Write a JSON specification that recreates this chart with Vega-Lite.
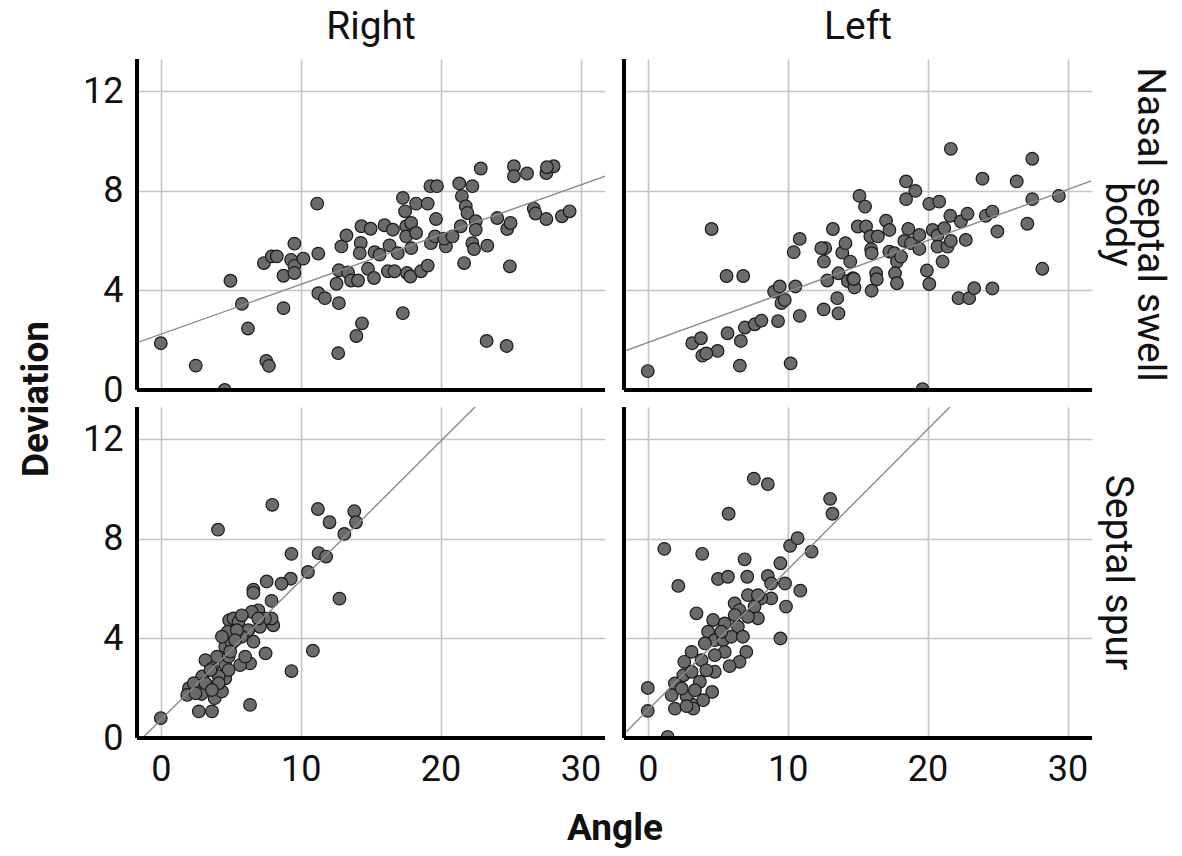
{
"$schema": "https://vega.github.io/schema/vega-lite/v6.json",
"background": "white",
"padding": {"left": 17, "top": 8, "right": 12, "bottom": 2},
"data": {"values": [
{"Side":"Right","Site":"Nasal septal swell body","kind":"fit","Angle":-1.7,"Deviation":1.9},
{"Side":"Right","Site":"Nasal septal swell body","kind":"fit","Angle":31.8,"Deviation":8.6},
{"Side":"Left","Site":"Nasal septal swell body","kind":"fit","Angle":-1.76,"Deviation":1.54},
{"Side":"Left","Site":"Nasal septal swell body","kind":"fit","Angle":31.7,"Deviation":8.4},
{"Side":"Right","Site":"Septal spur","kind":"fit","Angle":-1.3,"Deviation":0},
{"Side":"Right","Site":"Septal spur","kind":"fit","Angle":23,"Deviation":13.6},
{"Side":"Left","Site":"Septal spur","kind":"fit","Angle":-1.76,"Deviation":0.13},
{"Side":"Left","Site":"Septal spur","kind":"fit","Angle":22,"Deviation":13.53},
{"Side":"Right","Site":"Nasal septal swell body","kind":"obs","Angle":0,"Deviation":1.88},
{"Side":"Right","Site":"Nasal septal swell body","kind":"obs","Angle":2.5,"Deviation":0.98},
{"Side":"Right","Site":"Nasal septal swell body","kind":"obs","Angle":4.57,"Deviation":0},
{"Side":"Right","Site":"Nasal septal swell body","kind":"obs","Angle":4.98,"Deviation":4.39},
{"Side":"Right","Site":"Nasal septal swell body","kind":"obs","Angle":5.8,"Deviation":3.46},
{"Side":"Right","Site":"Nasal septal swell body","kind":"obs","Angle":6.23,"Deviation":2.47},
{"Side":"Right","Site":"Nasal septal swell body","kind":"obs","Angle":7.54,"Deviation":1.17},
{"Side":"Right","Site":"Nasal septal swell body","kind":"obs","Angle":7.73,"Deviation":0.97},
{"Side":"Right","Site":"Nasal septal swell body","kind":"obs","Angle":7.37,"Deviation":5.1},
{"Side":"Right","Site":"Nasal septal swell body","kind":"obs","Angle":7.94,"Deviation":5.37},
{"Side":"Right","Site":"Nasal septal swell body","kind":"obs","Angle":8.29,"Deviation":5.37},
{"Side":"Right","Site":"Nasal septal swell body","kind":"obs","Angle":8.77,"Deviation":4.59},
{"Side":"Right","Site":"Nasal septal swell body","kind":"obs","Angle":8.77,"Deviation":3.29},
{"Side":"Right","Site":"Nasal septal swell body","kind":"obs","Angle":9.31,"Deviation":5.23},
{"Side":"Right","Site":"Nasal septal swell body","kind":"obs","Angle":9.55,"Deviation":5.88},
{"Side":"Right","Site":"Nasal septal swell body","kind":"obs","Angle":9.55,"Deviation":4.99},
{"Side":"Right","Site":"Nasal septal swell body","kind":"obs","Angle":9.55,"Deviation":4.7},
{"Side":"Right","Site":"Nasal septal swell body","kind":"obs","Angle":10.19,"Deviation":5.28},
{"Side":"Right","Site":"Nasal septal swell body","kind":"obs","Angle":11.18,"Deviation":7.49},
{"Side":"Right","Site":"Nasal septal swell body","kind":"obs","Angle":11.26,"Deviation":5.48},
{"Side":"Right","Site":"Nasal septal swell body","kind":"obs","Angle":11.26,"Deviation":3.89},
{"Side":"Right","Site":"Nasal septal swell body","kind":"obs","Angle":11.73,"Deviation":3.69},
{"Side":"Right","Site":"Nasal septal swell body","kind":"obs","Angle":12.73,"Deviation":3.49},
{"Side":"Right","Site":"Nasal septal swell body","kind":"obs","Angle":12.68,"Deviation":1.48},
{"Side":"Right","Site":"Nasal septal swell body","kind":"obs","Angle":12.73,"Deviation":4.81},
{"Side":"Right","Site":"Nasal septal swell body","kind":"obs","Angle":12.56,"Deviation":4.27},
{"Side":"Right","Site":"Nasal septal swell body","kind":"obs","Angle":12.91,"Deviation":5.77},
{"Side":"Right","Site":"Nasal septal swell body","kind":"obs","Angle":13.27,"Deviation":6.21},
{"Side":"Right","Site":"Nasal septal swell body","kind":"obs","Angle":13.39,"Deviation":4.72},
{"Side":"Right","Site":"Nasal septal swell body","kind":"obs","Angle":13.6,"Deviation":4.4},
{"Side":"Right","Site":"Nasal septal swell body","kind":"obs","Angle":14.1,"Deviation":4.4},
{"Side":"Right","Site":"Nasal septal swell body","kind":"obs","Angle":13.98,"Deviation":2.17},
{"Side":"Right","Site":"Nasal septal swell body","kind":"obs","Angle":14.38,"Deviation":2.68},
{"Side":"Right","Site":"Nasal septal swell body","kind":"obs","Angle":14.34,"Deviation":6.58},
{"Side":"Right","Site":"Nasal septal swell body","kind":"obs","Angle":14.29,"Deviation":5.91},
{"Side":"Right","Site":"Nasal septal swell body","kind":"obs","Angle":14.22,"Deviation":5.5},
{"Side":"Right","Site":"Nasal septal swell body","kind":"obs","Angle":14.81,"Deviation":4.87},
{"Side":"Right","Site":"Nasal septal swell body","kind":"obs","Angle":15.0,"Deviation":6.48},
{"Side":"Right","Site":"Nasal septal swell body","kind":"obs","Angle":15.24,"Deviation":4.5},
{"Side":"Right","Site":"Nasal septal swell body","kind":"obs","Angle":15.28,"Deviation":5.54},
{"Side":"Right","Site":"Nasal septal swell body","kind":"obs","Angle":15.64,"Deviation":5.44},
{"Side":"Right","Site":"Nasal septal swell body","kind":"obs","Angle":15.99,"Deviation":6.62},
{"Side":"Right","Site":"Nasal septal swell body","kind":"obs","Angle":16.35,"Deviation":5.81},
{"Side":"Right","Site":"Nasal septal swell body","kind":"obs","Angle":16.23,"Deviation":4.77},
{"Side":"Right","Site":"Nasal septal swell body","kind":"obs","Angle":16.71,"Deviation":4.77},
{"Side":"Right","Site":"Nasal septal swell body","kind":"obs","Angle":16.94,"Deviation":5.5},
{"Side":"Right","Site":"Nasal septal swell body","kind":"obs","Angle":17.3,"Deviation":7.72},
{"Side":"Right","Site":"Nasal septal swell body","kind":"obs","Angle":17.3,"Deviation":3.09},
{"Side":"Right","Site":"Nasal septal swell body","kind":"obs","Angle":17.46,"Deviation":7.18},
{"Side":"Right","Site":"Nasal septal swell body","kind":"obs","Angle":17.54,"Deviation":6.58},
{"Side":"Right","Site":"Nasal septal swell body","kind":"obs","Angle":17.54,"Deviation":6.17},
{"Side":"Right","Site":"Nasal septal swell body","kind":"obs","Angle":17.9,"Deviation":6.71},
{"Side":"Right","Site":"Nasal septal swell body","kind":"obs","Angle":17.9,"Deviation":5.7},
{"Side":"Right","Site":"Nasal septal swell body","kind":"obs","Angle":17.6,"Deviation":4.7},
{"Side":"Right","Site":"Nasal septal swell body","kind":"obs","Angle":17.84,"Deviation":4.56},
{"Side":"Right","Site":"Nasal septal swell body","kind":"obs","Angle":18.25,"Deviation":7.49},
{"Side":"Right","Site":"Nasal septal swell body","kind":"obs","Angle":18.25,"Deviation":6.31},
{"Side":"Right","Site":"Nasal septal swell body","kind":"obs","Angle":18.6,"Deviation":4.77},
{"Side":"Right","Site":"Nasal septal swell body","kind":"obs","Angle":19.08,"Deviation":7.49},
{"Side":"Right","Site":"Nasal septal swell body","kind":"obs","Angle":19.08,"Deviation":5.0},
{"Side":"Right","Site":"Nasal septal swell body","kind":"obs","Angle":19.27,"Deviation":8.19},
{"Side":"Right","Site":"Nasal septal swell body","kind":"obs","Angle":19.74,"Deviation":8.19},
{"Side":"Right","Site":"Nasal septal swell body","kind":"obs","Angle":19.67,"Deviation":6.87},
{"Side":"Right","Site":"Nasal septal swell body","kind":"obs","Angle":19.31,"Deviation":5.9},
{"Side":"Right","Site":"Nasal septal swell body","kind":"obs","Angle":19.6,"Deviation":6.17},
{"Side":"Right","Site":"Nasal septal swell body","kind":"obs","Angle":20.38,"Deviation":5.77},
{"Side":"Right","Site":"Nasal septal swell body","kind":"obs","Angle":20.26,"Deviation":6.08},
{"Side":"Right","Site":"Nasal septal swell body","kind":"obs","Angle":20.85,"Deviation":6.17},
{"Side":"Right","Site":"Nasal septal swell body","kind":"obs","Angle":21.33,"Deviation":8.3},
{"Side":"Right","Site":"Nasal septal swell body","kind":"obs","Angle":21.52,"Deviation":7.79},
{"Side":"Right","Site":"Nasal septal swell body","kind":"obs","Angle":22.27,"Deviation":8.19},
{"Side":"Right","Site":"Nasal septal swell body","kind":"obs","Angle":21.8,"Deviation":7.38},
{"Side":"Right","Site":"Nasal septal swell body","kind":"obs","Angle":21.92,"Deviation":7.11},
{"Side":"Right","Site":"Nasal septal swell body","kind":"obs","Angle":21.68,"Deviation":5.1},
{"Side":"Right","Site":"Nasal septal swell body","kind":"obs","Angle":21.44,"Deviation":6.58},
{"Side":"Right","Site":"Nasal septal swell body","kind":"obs","Angle":22.27,"Deviation":5.9},
{"Side":"Right","Site":"Nasal septal swell body","kind":"obs","Angle":22.39,"Deviation":5.66},
{"Side":"Right","Site":"Nasal septal swell body","kind":"obs","Angle":22.51,"Deviation":6.78},
{"Side":"Right","Site":"Nasal septal swell body","kind":"obs","Angle":22.51,"Deviation":6.44},
{"Side":"Right","Site":"Nasal septal swell body","kind":"obs","Angle":22.87,"Deviation":8.9},
{"Side":"Right","Site":"Nasal septal swell body","kind":"obs","Angle":23.34,"Deviation":5.8},
{"Side":"Right","Site":"Nasal septal swell body","kind":"obs","Angle":23.29,"Deviation":1.97},
{"Side":"Right","Site":"Nasal septal swell body","kind":"obs","Angle":24.05,"Deviation":6.91},
{"Side":"Right","Site":"Nasal septal swell body","kind":"obs","Angle":24.76,"Deviation":6.47},
{"Side":"Right","Site":"Nasal septal swell body","kind":"obs","Angle":25.0,"Deviation":6.71},
{"Side":"Right","Site":"Nasal septal swell body","kind":"obs","Angle":24.95,"Deviation":4.97},
{"Side":"Right","Site":"Nasal septal swell body","kind":"obs","Angle":24.72,"Deviation":1.77},
{"Side":"Right","Site":"Nasal septal swell body","kind":"obs","Angle":25.24,"Deviation":8.99},
{"Side":"Right","Site":"Nasal septal swell body","kind":"obs","Angle":25.24,"Deviation":8.59},
{"Side":"Right","Site":"Nasal septal swell body","kind":"obs","Angle":26.18,"Deviation":8.7},
{"Side":"Right","Site":"Nasal septal swell body","kind":"obs","Angle":26.66,"Deviation":7.29},
{"Side":"Right","Site":"Nasal septal swell body","kind":"obs","Angle":26.78,"Deviation":7.09},
{"Side":"Right","Site":"Nasal septal swell body","kind":"obs","Angle":27.56,"Deviation":6.87},
{"Side":"Right","Site":"Nasal septal swell body","kind":"obs","Angle":27.56,"Deviation":8.72},
{"Side":"Right","Site":"Nasal septal swell body","kind":"obs","Angle":28.08,"Deviation":8.99},
{"Side":"Right","Site":"Nasal septal swell body","kind":"obs","Angle":28.67,"Deviation":6.98},
{"Side":"Right","Site":"Nasal septal swell body","kind":"obs","Angle":29.22,"Deviation":7.18},
{"Side":"Right","Site":"Nasal septal swell body","kind":"obs","Angle":16.59,"Deviation":6.44},
{"Side":"Right","Site":"Nasal septal swell body","kind":"obs","Angle":27.6,"Deviation":8.95},
{"Side":"Left","Site":"Nasal septal swell body","kind":"obs","Angle":0,"Deviation":0.76},
{"Side":"Left","Site":"Nasal septal swell body","kind":"obs","Angle":3.18,"Deviation":1.88},
{"Side":"Left","Site":"Nasal septal swell body","kind":"obs","Angle":3.8,"Deviation":2.08},
{"Side":"Left","Site":"Nasal septal swell body","kind":"obs","Angle":3.9,"Deviation":1.38},
{"Side":"Left","Site":"Nasal septal swell body","kind":"obs","Angle":4.56,"Deviation":6.47},
{"Side":"Left","Site":"Nasal septal swell body","kind":"obs","Angle":4.99,"Deviation":1.57},
{"Side":"Left","Site":"Nasal septal swell body","kind":"obs","Angle":5.7,"Deviation":2.28},
{"Side":"Left","Site":"Nasal septal swell body","kind":"obs","Angle":5.63,"Deviation":4.58},
{"Side":"Left","Site":"Nasal septal swell body","kind":"obs","Angle":6.82,"Deviation":4.58},
{"Side":"Left","Site":"Nasal septal swell body","kind":"obs","Angle":6.65,"Deviation":1.97},
{"Side":"Left","Site":"Nasal septal swell body","kind":"obs","Angle":6.58,"Deviation":0.98},
{"Side":"Left","Site":"Nasal septal swell body","kind":"obs","Angle":6.94,"Deviation":2.51},
{"Side":"Left","Site":"Nasal septal swell body","kind":"obs","Angle":7.65,"Deviation":2.64},
{"Side":"Left","Site":"Nasal septal swell body","kind":"obs","Angle":8.12,"Deviation":2.79},
{"Side":"Left","Site":"Nasal septal swell body","kind":"obs","Angle":9.03,"Deviation":3.95},
{"Side":"Left","Site":"Nasal septal swell body","kind":"obs","Angle":9.43,"Deviation":4.16},
{"Side":"Left","Site":"Nasal septal swell body","kind":"obs","Angle":9.31,"Deviation":2.77},
{"Side":"Left","Site":"Nasal septal swell body","kind":"obs","Angle":9.55,"Deviation":3.49},
{"Side":"Left","Site":"Nasal septal swell body","kind":"obs","Angle":9.79,"Deviation":3.62},
{"Side":"Left","Site":"Nasal septal swell body","kind":"obs","Angle":10.21,"Deviation":1.07},
{"Side":"Left","Site":"Nasal septal swell body","kind":"obs","Angle":10.43,"Deviation":5.54},
{"Side":"Left","Site":"Nasal septal swell body","kind":"obs","Angle":10.86,"Deviation":6.07},
{"Side":"Left","Site":"Nasal septal swell body","kind":"obs","Angle":10.55,"Deviation":4.16},
{"Side":"Left","Site":"Nasal septal swell body","kind":"obs","Angle":10.86,"Deviation":2.98},
{"Side":"Left","Site":"Nasal septal swell body","kind":"obs","Angle":12.57,"Deviation":3.24},
{"Side":"Left","Site":"Nasal septal swell body","kind":"obs","Angle":12.59,"Deviation":5.16},
{"Side":"Left","Site":"Nasal septal swell body","kind":"obs","Angle":12.68,"Deviation":5.7},
{"Side":"Left","Site":"Nasal septal swell body","kind":"obs","Angle":12.4,"Deviation":5.7},
{"Side":"Left","Site":"Nasal septal swell body","kind":"obs","Angle":12.83,"Deviation":4.4},
{"Side":"Left","Site":"Nasal septal swell body","kind":"obs","Angle":13.23,"Deviation":6.47},
{"Side":"Left","Site":"Nasal septal swell body","kind":"obs","Angle":13.54,"Deviation":3.69},
{"Side":"Left","Site":"Nasal septal swell body","kind":"obs","Angle":13.63,"Deviation":3.08},
{"Side":"Left","Site":"Nasal septal swell body","kind":"obs","Angle":13.63,"Deviation":4.69},
{"Side":"Left","Site":"Nasal septal swell body","kind":"obs","Angle":13.9,"Deviation":5.52},
{"Side":"Left","Site":"Nasal septal swell body","kind":"obs","Angle":14.13,"Deviation":5.9},
{"Side":"Left","Site":"Nasal septal swell body","kind":"obs","Angle":14.3,"Deviation":4.38},
{"Side":"Left","Site":"Nasal septal swell body","kind":"obs","Angle":14.47,"Deviation":5.16},
{"Side":"Left","Site":"Nasal septal swell body","kind":"obs","Angle":14.66,"Deviation":4.49},
{"Side":"Left","Site":"Nasal septal swell body","kind":"obs","Angle":14.77,"Deviation":4.12},
{"Side":"Left","Site":"Nasal septal swell body","kind":"obs","Angle":14.73,"Deviation":4.46},
{"Side":"Left","Site":"Nasal septal swell body","kind":"obs","Angle":15.01,"Deviation":6.57},
{"Side":"Left","Site":"Nasal septal swell body","kind":"obs","Angle":15.13,"Deviation":7.8},
{"Side":"Left","Site":"Nasal septal swell body","kind":"obs","Angle":15.53,"Deviation":7.37},
{"Side":"Left","Site":"Nasal septal swell body","kind":"obs","Angle":15.6,"Deviation":6.57},
{"Side":"Left","Site":"Nasal septal swell body","kind":"obs","Angle":15.91,"Deviation":6.17},
{"Side":"Left","Site":"Nasal septal swell body","kind":"obs","Angle":15.96,"Deviation":5.66},
{"Side":"Left","Site":"Nasal septal swell body","kind":"obs","Angle":16.0,"Deviation":5.5},
{"Side":"Left","Site":"Nasal septal swell body","kind":"obs","Angle":16.0,"Deviation":3.99},
{"Side":"Left","Site":"Nasal septal swell body","kind":"obs","Angle":16.44,"Deviation":6.17},
{"Side":"Left","Site":"Nasal septal swell body","kind":"obs","Angle":16.32,"Deviation":4.69},
{"Side":"Left","Site":"Nasal septal swell body","kind":"obs","Angle":16.37,"Deviation":4.45},
{"Side":"Left","Site":"Nasal septal swell body","kind":"obs","Angle":17.03,"Deviation":6.8},
{"Side":"Left","Site":"Nasal septal swell body","kind":"obs","Angle":17.27,"Deviation":6.43},
{"Side":"Left","Site":"Nasal septal swell body","kind":"obs","Angle":17.27,"Deviation":5.56},
{"Side":"Left","Site":"Nasal septal swell body","kind":"obs","Angle":17.62,"Deviation":5.5},
{"Side":"Left","Site":"Nasal septal swell body","kind":"obs","Angle":17.81,"Deviation":5.16},
{"Side":"Left","Site":"Nasal septal swell body","kind":"obs","Angle":17.67,"Deviation":4.69},
{"Side":"Left","Site":"Nasal septal swell body","kind":"obs","Angle":17.81,"Deviation":4.29},
{"Side":"Left","Site":"Nasal septal swell body","kind":"obs","Angle":18.1,"Deviation":5.36},
{"Side":"Left","Site":"Nasal septal swell body","kind":"obs","Angle":18.34,"Deviation":5.99},
{"Side":"Left","Site":"Nasal septal swell body","kind":"obs","Angle":18.46,"Deviation":8.38},
{"Side":"Left","Site":"Nasal septal swell body","kind":"obs","Angle":18.46,"Deviation":7.67},
{"Side":"Left","Site":"Nasal septal swell body","kind":"obs","Angle":19.12,"Deviation":8.0},
{"Side":"Left","Site":"Nasal septal swell body","kind":"obs","Angle":18.62,"Deviation":6.47},
{"Side":"Left","Site":"Nasal septal swell body","kind":"obs","Angle":18.81,"Deviation":5.9},
{"Side":"Left","Site":"Nasal septal swell body","kind":"obs","Angle":19.41,"Deviation":6.23},
{"Side":"Left","Site":"Nasal septal swell body","kind":"obs","Angle":19.41,"Deviation":5.67},
{"Side":"Left","Site":"Nasal septal swell body","kind":"obs","Angle":19.64,"Deviation":0.03},
{"Side":"Left","Site":"Nasal septal swell body","kind":"obs","Angle":19.95,"Deviation":4.8},
{"Side":"Left","Site":"Nasal septal swell body","kind":"obs","Angle":20.12,"Deviation":4.26},
{"Side":"Left","Site":"Nasal septal swell body","kind":"obs","Angle":20.12,"Deviation":7.48},
{"Side":"Left","Site":"Nasal septal swell body","kind":"obs","Angle":20.83,"Deviation":7.57},
{"Side":"Left","Site":"Nasal septal swell body","kind":"obs","Angle":20.36,"Deviation":6.43},
{"Side":"Left","Site":"Nasal septal swell body","kind":"obs","Angle":20.71,"Deviation":6.21},
{"Side":"Left","Site":"Nasal septal swell body","kind":"obs","Angle":20.71,"Deviation":5.76},
{"Side":"Left","Site":"Nasal septal swell body","kind":"obs","Angle":21.07,"Deviation":5.16},
{"Side":"Left","Site":"Nasal septal swell body","kind":"obs","Angle":21.19,"Deviation":6.5},
{"Side":"Left","Site":"Nasal septal swell body","kind":"obs","Angle":21.43,"Deviation":5.76},
{"Side":"Left","Site":"Nasal septal swell body","kind":"obs","Angle":21.66,"Deviation":5.99},
{"Side":"Left","Site":"Nasal septal swell body","kind":"obs","Angle":21.66,"Deviation":9.69},
{"Side":"Left","Site":"Nasal septal swell body","kind":"obs","Angle":21.62,"Deviation":7.0},
{"Side":"Left","Site":"Nasal septal swell body","kind":"obs","Angle":22.38,"Deviation":6.77},
{"Side":"Left","Site":"Nasal septal swell body","kind":"obs","Angle":22.85,"Deviation":7.08},
{"Side":"Left","Site":"Nasal septal swell body","kind":"obs","Angle":22.73,"Deviation":6.03},
{"Side":"Left","Site":"Nasal septal swell body","kind":"obs","Angle":22.21,"Deviation":3.69},
{"Side":"Left","Site":"Nasal septal swell body","kind":"obs","Angle":22.97,"Deviation":3.69},
{"Side":"Left","Site":"Nasal septal swell body","kind":"obs","Angle":23.33,"Deviation":4.09},
{"Side":"Left","Site":"Nasal septal swell body","kind":"obs","Angle":23.92,"Deviation":8.49},
{"Side":"Left","Site":"Nasal septal swell body","kind":"obs","Angle":24.16,"Deviation":7.0},
{"Side":"Left","Site":"Nasal septal swell body","kind":"obs","Angle":24.63,"Deviation":7.17},
{"Side":"Left","Site":"Nasal septal swell body","kind":"obs","Angle":24.99,"Deviation":6.37},
{"Side":"Left","Site":"Nasal septal swell body","kind":"obs","Angle":24.63,"Deviation":4.08},
{"Side":"Left","Site":"Nasal septal swell body","kind":"obs","Angle":26.37,"Deviation":8.38},
{"Side":"Left","Site":"Nasal septal swell body","kind":"obs","Angle":27.13,"Deviation":6.68},
{"Side":"Left","Site":"Nasal septal swell body","kind":"obs","Angle":27.48,"Deviation":7.67},
{"Side":"Left","Site":"Nasal septal swell body","kind":"obs","Angle":27.48,"Deviation":9.29},
{"Side":"Left","Site":"Nasal septal swell body","kind":"obs","Angle":28.2,"Deviation":4.87},
{"Side":"Left","Site":"Nasal septal swell body","kind":"obs","Angle":29.38,"Deviation":7.8},
{"Side":"Left","Site":"Nasal septal swell body","kind":"obs","Angle":4.18,"Deviation":1.47},
{"Side":"Right","Site":"Septal spur","kind":"obs","Angle":0,"Deviation":0.8},
{"Side":"Right","Site":"Septal spur","kind":"obs","Angle":4.09,"Deviation":8.37},
{"Side":"Right","Site":"Septal spur","kind":"obs","Angle":7.97,"Deviation":9.37},
{"Side":"Right","Site":"Septal spur","kind":"obs","Angle":11.23,"Deviation":9.2},
{"Side":"Right","Site":"Septal spur","kind":"obs","Angle":12.06,"Deviation":8.67},
{"Side":"Right","Site":"Septal spur","kind":"obs","Angle":13.83,"Deviation":9.11},
{"Side":"Right","Site":"Septal spur","kind":"obs","Angle":13.95,"Deviation":8.67},
{"Side":"Right","Site":"Septal spur","kind":"obs","Angle":13.12,"Deviation":8.2},
{"Side":"Right","Site":"Septal spur","kind":"obs","Angle":9.34,"Deviation":7.4},
{"Side":"Right","Site":"Septal spur","kind":"obs","Angle":11.28,"Deviation":7.43},
{"Side":"Right","Site":"Septal spur","kind":"obs","Angle":11.82,"Deviation":7.29},
{"Side":"Right","Site":"Septal spur","kind":"obs","Angle":10.52,"Deviation":6.67},
{"Side":"Right","Site":"Septal spur","kind":"obs","Angle":9.29,"Deviation":6.4},
{"Side":"Right","Site":"Septal spur","kind":"obs","Angle":8.63,"Deviation":6.2},
{"Side":"Right","Site":"Septal spur","kind":"obs","Angle":7.57,"Deviation":6.29},
{"Side":"Right","Site":"Septal spur","kind":"obs","Angle":6.62,"Deviation":5.96},
{"Side":"Right","Site":"Septal spur","kind":"obs","Angle":6.62,"Deviation":5.83},
{"Side":"Right","Site":"Septal spur","kind":"obs","Angle":7.92,"Deviation":5.51},
{"Side":"Right","Site":"Septal spur","kind":"obs","Angle":12.77,"Deviation":5.6},
{"Side":"Right","Site":"Septal spur","kind":"obs","Angle":6.97,"Deviation":5.13},
{"Side":"Right","Site":"Septal spur","kind":"obs","Angle":8.04,"Deviation":4.53},
{"Side":"Right","Site":"Septal spur","kind":"obs","Angle":7.92,"Deviation":4.8},
{"Side":"Right","Site":"Septal spur","kind":"obs","Angle":7.45,"Deviation":4.8},
{"Side":"Right","Site":"Septal spur","kind":"obs","Angle":6.5,"Deviation":5.07},
{"Side":"Right","Site":"Septal spur","kind":"obs","Angle":4.89,"Deviation":4.73},
{"Side":"Right","Site":"Septal spur","kind":"obs","Angle":5.2,"Deviation":4.8},
{"Side":"Right","Site":"Septal spur","kind":"obs","Angle":5.56,"Deviation":4.67},
{"Side":"Right","Site":"Septal spur","kind":"obs","Angle":6.26,"Deviation":4.33},
{"Side":"Right","Site":"Septal spur","kind":"obs","Angle":4.8,"Deviation":4.27},
{"Side":"Right","Site":"Septal spur","kind":"obs","Angle":5.79,"Deviation":4.07},
{"Side":"Right","Site":"Septal spur","kind":"obs","Angle":6.62,"Deviation":3.87},
{"Side":"Right","Site":"Septal spur","kind":"obs","Angle":4.61,"Deviation":3.67},
{"Side":"Right","Site":"Septal spur","kind":"obs","Angle":7.49,"Deviation":3.4},
{"Side":"Right","Site":"Septal spur","kind":"obs","Angle":6.38,"Deviation":3.0},
{"Side":"Right","Site":"Septal spur","kind":"obs","Angle":5.67,"Deviation":2.93},
{"Side":"Right","Site":"Septal spur","kind":"obs","Angle":4.61,"Deviation":2.93},
{"Side":"Right","Site":"Septal spur","kind":"obs","Angle":4.02,"Deviation":3.27},
{"Side":"Right","Site":"Septal spur","kind":"obs","Angle":3.19,"Deviation":3.13},
{"Side":"Right","Site":"Septal spur","kind":"obs","Angle":3.66,"Deviation":2.8},
{"Side":"Right","Site":"Septal spur","kind":"obs","Angle":2.96,"Deviation":2.47},
{"Side":"Right","Site":"Septal spur","kind":"obs","Angle":3.43,"Deviation":2.07},
{"Side":"Right","Site":"Septal spur","kind":"obs","Angle":4.61,"Deviation":2.4},
{"Side":"Right","Site":"Septal spur","kind":"obs","Angle":4.85,"Deviation":2.73},
{"Side":"Right","Site":"Septal spur","kind":"obs","Angle":2.01,"Deviation":2.0},
{"Side":"Right","Site":"Septal spur","kind":"obs","Angle":1.89,"Deviation":1.73},
{"Side":"Right","Site":"Septal spur","kind":"obs","Angle":2.91,"Deviation":1.77},
{"Side":"Right","Site":"Septal spur","kind":"obs","Angle":3.85,"Deviation":1.6},
{"Side":"Right","Site":"Septal spur","kind":"obs","Angle":4.37,"Deviation":1.87},
{"Side":"Right","Site":"Septal spur","kind":"obs","Angle":2.72,"Deviation":1.07},
{"Side":"Right","Site":"Septal spur","kind":"obs","Angle":3.66,"Deviation":1.07},
{"Side":"Right","Site":"Septal spur","kind":"obs","Angle":6.38,"Deviation":1.33},
{"Side":"Right","Site":"Septal spur","kind":"obs","Angle":9.34,"Deviation":2.69},
{"Side":"Right","Site":"Septal spur","kind":"obs","Angle":10.87,"Deviation":3.51},
{"Side":"Right","Site":"Septal spur","kind":"obs","Angle":5.44,"Deviation":4.33},
{"Side":"Right","Site":"Septal spur","kind":"obs","Angle":4.14,"Deviation":2.47},
{"Side":"Right","Site":"Septal spur","kind":"obs","Angle":2.36,"Deviation":2.2},
{"Side":"Right","Site":"Septal spur","kind":"obs","Angle":2.48,"Deviation":1.8},
{"Side":"Right","Site":"Septal spur","kind":"obs","Angle":5.08,"Deviation":3.8},
{"Side":"Right","Site":"Septal spur","kind":"obs","Angle":6.03,"Deviation":3.27},
{"Side":"Right","Site":"Septal spur","kind":"obs","Angle":7.09,"Deviation":4.47},
{"Side":"Right","Site":"Septal spur","kind":"obs","Angle":4.37,"Deviation":4.07},
{"Side":"Right","Site":"Septal spur","kind":"obs","Angle":3.55,"Deviation":2.73},
{"Side":"Right","Site":"Septal spur","kind":"obs","Angle":5.32,"Deviation":3.93},
{"Side":"Right","Site":"Septal spur","kind":"obs","Angle":4.14,"Deviation":2.2},
{"Side":"Right","Site":"Septal spur","kind":"obs","Angle":3.19,"Deviation":2.2},
{"Side":"Right","Site":"Septal spur","kind":"obs","Angle":4.85,"Deviation":3.27},
{"Side":"Right","Site":"Septal spur","kind":"obs","Angle":6.97,"Deviation":4.8},
{"Side":"Right","Site":"Septal spur","kind":"obs","Angle":5.79,"Deviation":4.93},
{"Side":"Right","Site":"Septal spur","kind":"obs","Angle":4.96,"Deviation":3.47},
{"Side":"Right","Site":"Septal spur","kind":"obs","Angle":3.66,"Deviation":1.93},
{"Side":"Left","Site":"Septal spur","kind":"obs","Angle":0,"Deviation":2.01},
{"Side":"Left","Site":"Septal spur","kind":"obs","Angle":0,"Deviation":1.09},
{"Side":"Left","Site":"Septal spur","kind":"obs","Angle":1.42,"Deviation":0.04},
{"Side":"Left","Site":"Septal spur","kind":"obs","Angle":1.18,"Deviation":7.6},
{"Side":"Left","Site":"Septal spur","kind":"obs","Angle":2.18,"Deviation":6.11},
{"Side":"Left","Site":"Septal spur","kind":"obs","Angle":3.89,"Deviation":7.4},
{"Side":"Left","Site":"Septal spur","kind":"obs","Angle":5.78,"Deviation":9.01},
{"Side":"Left","Site":"Septal spur","kind":"obs","Angle":7.58,"Deviation":10.42},
{"Side":"Left","Site":"Septal spur","kind":"obs","Angle":8.58,"Deviation":10.2},
{"Side":"Left","Site":"Septal spur","kind":"obs","Angle":3.48,"Deviation":5.01},
{"Side":"Left","Site":"Septal spur","kind":"obs","Angle":5.02,"Deviation":6.39},
{"Side":"Left","Site":"Septal spur","kind":"obs","Angle":5.73,"Deviation":6.48},
{"Side":"Left","Site":"Septal spur","kind":"obs","Angle":6.92,"Deviation":7.18},
{"Side":"Left","Site":"Septal spur","kind":"obs","Angle":7.11,"Deviation":6.48},
{"Side":"Left","Site":"Septal spur","kind":"obs","Angle":8.58,"Deviation":6.51},
{"Side":"Left","Site":"Septal spur","kind":"obs","Angle":9.48,"Deviation":7.02},
{"Side":"Left","Site":"Septal spur","kind":"obs","Angle":10.17,"Deviation":7.72},
{"Side":"Left","Site":"Septal spur","kind":"obs","Angle":10.71,"Deviation":8.03},
{"Side":"Left","Site":"Septal spur","kind":"obs","Angle":11.71,"Deviation":7.49},
{"Side":"Left","Site":"Septal spur","kind":"obs","Angle":13.03,"Deviation":9.61},
{"Side":"Left","Site":"Septal spur","kind":"obs","Angle":13.2,"Deviation":9.01},
{"Side":"Left","Site":"Septal spur","kind":"obs","Angle":9.81,"Deviation":6.21},
{"Side":"Left","Site":"Septal spur","kind":"obs","Angle":10.9,"Deviation":5.92},
{"Side":"Left","Site":"Septal spur","kind":"obs","Angle":9.88,"Deviation":5.28},
{"Side":"Left","Site":"Septal spur","kind":"obs","Angle":9.48,"Deviation":4.0},
{"Side":"Left","Site":"Septal spur","kind":"obs","Angle":8.82,"Deviation":5.61},
{"Side":"Left","Site":"Septal spur","kind":"obs","Angle":8.82,"Deviation":6.21},
{"Side":"Left","Site":"Septal spur","kind":"obs","Angle":8.1,"Deviation":5.61},
{"Side":"Left","Site":"Septal spur","kind":"obs","Angle":7.16,"Deviation":5.74},
{"Side":"Left","Site":"Septal spur","kind":"obs","Angle":6.21,"Deviation":5.41},
{"Side":"Left","Site":"Septal spur","kind":"obs","Angle":7.63,"Deviation":5.28},
{"Side":"Left","Site":"Septal spur","kind":"obs","Angle":6.56,"Deviation":5.14},
{"Side":"Left","Site":"Septal spur","kind":"obs","Angle":7.87,"Deviation":4.81},
{"Side":"Left","Site":"Septal spur","kind":"obs","Angle":7.16,"Deviation":4.87},
{"Side":"Left","Site":"Septal spur","kind":"obs","Angle":6.44,"Deviation":4.47},
{"Side":"Left","Site":"Septal spur","kind":"obs","Angle":5.5,"Deviation":4.6},
{"Side":"Left","Site":"Septal spur","kind":"obs","Angle":4.67,"Deviation":4.74},
{"Side":"Left","Site":"Septal spur","kind":"obs","Angle":4.31,"Deviation":4.27},
{"Side":"Left","Site":"Septal spur","kind":"obs","Angle":4.79,"Deviation":3.93},
{"Side":"Left","Site":"Septal spur","kind":"obs","Angle":5.38,"Deviation":3.93},
{"Side":"Left","Site":"Septal spur","kind":"obs","Angle":7.04,"Deviation":3.46},
{"Side":"Left","Site":"Septal spur","kind":"obs","Angle":6.56,"Deviation":3.06},
{"Side":"Left","Site":"Septal spur","kind":"obs","Angle":5.85,"Deviation":2.89},
{"Side":"Left","Site":"Septal spur","kind":"obs","Angle":5.5,"Deviation":3.46},
{"Side":"Left","Site":"Septal spur","kind":"obs","Angle":4.08,"Deviation":3.8},
{"Side":"Left","Site":"Septal spur","kind":"obs","Angle":3.13,"Deviation":3.46},
{"Side":"Left","Site":"Septal spur","kind":"obs","Angle":2.61,"Deviation":3.06},
{"Side":"Left","Site":"Septal spur","kind":"obs","Angle":3.84,"Deviation":3.13},
{"Side":"Left","Site":"Septal spur","kind":"obs","Angle":4.79,"Deviation":2.66},
{"Side":"Left","Site":"Septal spur","kind":"obs","Angle":2.54,"Deviation":2.52},
{"Side":"Left","Site":"Septal spur","kind":"obs","Angle":1.94,"Deviation":2.19},
{"Side":"Left","Site":"Septal spur","kind":"obs","Angle":1.71,"Deviation":1.72},
{"Side":"Left","Site":"Septal spur","kind":"obs","Angle":3.72,"Deviation":2.26},
{"Side":"Left","Site":"Septal spur","kind":"obs","Angle":4.6,"Deviation":1.85},
{"Side":"Left","Site":"Septal spur","kind":"obs","Angle":1.94,"Deviation":1.18},
{"Side":"Left","Site":"Septal spur","kind":"obs","Angle":3.13,"Deviation":1.36},
{"Side":"Left","Site":"Septal spur","kind":"obs","Angle":3.96,"Deviation":1.52},
{"Side":"Left","Site":"Septal spur","kind":"obs","Angle":2.77,"Deviation":1.68},
{"Side":"Left","Site":"Septal spur","kind":"obs","Angle":3.25,"Deviation":1.18},
{"Side":"Left","Site":"Septal spur","kind":"obs","Angle":2.42,"Deviation":1.99},
{"Side":"Left","Site":"Septal spur","kind":"obs","Angle":4.19,"Deviation":2.72},
{"Side":"Left","Site":"Septal spur","kind":"obs","Angle":3.13,"Deviation":2.66},
{"Side":"Left","Site":"Septal spur","kind":"obs","Angle":5.97,"Deviation":4.07},
{"Side":"Left","Site":"Septal spur","kind":"obs","Angle":6.8,"Deviation":4.07},
{"Side":"Left","Site":"Septal spur","kind":"obs","Angle":5.26,"Deviation":4.27},
{"Side":"Left","Site":"Septal spur","kind":"obs","Angle":6.21,"Deviation":4.94},
{"Side":"Left","Site":"Septal spur","kind":"obs","Angle":3.37,"Deviation":1.92},
{"Side":"Left","Site":"Septal spur","kind":"obs","Angle":2.77,"Deviation":1.28},
{"Side":"Left","Site":"Septal spur","kind":"obs","Angle":4.79,"Deviation":3.33},
{"Side":"Left","Site":"Septal spur","kind":"obs","Angle":7.87,"Deviation":5.74}
]},
"facet": {
  "row": {"field": "Site", "type": "nominal", "sort": ["Nasal septal swell body", "Septal spur"],
    "header": {"title": "Deviation", "titleOrient": "left", "labelOrient": "right", "labelAngle": 90,
      "labelPadding": 4, "labelLineHeight": 32, "titlePadding": 16,
      "labelExpr": "datum.value == 'Nasal septal swell body' ? ['Nasal septal swell', 'body'] : datum.value"}},
  "column": {"field": "Side", "type": "nominal", "sort": ["Right", "Left"],
    "header": {"title": "Angle", "titleOrient": "bottom", "labelOrient": "top", "labelPadding": 10, "titlePadding": 14}}
},
"spacing": {"row": 13, "column": 15},
"spec": {
  "width": 468,
  "height": 331,
  "layer": [
    {
      "transform": [{"filter": "datum.kind == 'obs'"}],
      "mark": {"type": "circle", "size": 160, "fill": "#6b6b6b", "stroke": "#1a1a1a", "strokeWidth": 1.2, "opacity": 1, "clip": true},
      "encoding": {
        "x": {"field": "Angle", "type": "quantitative", "scale": {"domain": [-1.7, 31.75], "nice": false, "zero": false},
          "axis": {"values": [0, 10, 20, 30], "title": null}},
        "y": {"field": "Deviation", "type": "quantitative", "scale": {"domain": [0, 13.3], "nice": false},
          "axis": {"values": [0, 4, 8, 12], "title": null}}
      }
    },
    {
      "transform": [{"filter": "datum.kind == 'fit'"}],
      "mark": {"type": "line", "color": "#8a8a8a", "strokeWidth": 1.4, "clip": true},
      "encoding": {
        "x": {"field": "Angle", "type": "quantitative"},
        "y": {"field": "Deviation", "type": "quantitative"}
      }
    },
    {
      "transform": [{"filter": "datum.kind == 'fit'"}],
      "mark": {"type": "rule", "color": "black", "strokeWidth": 4},
      "encoding": {"y": {"datum": 0}}
    },
    {
      "transform": [{"filter": "datum.kind == 'fit'"}],
      "mark": {"type": "rule", "color": "black", "strokeWidth": 4},
      "encoding": {"x": {"datum": -1.7}}
    }
  ]
},
"config": {
  "font": "Roboto",
  "view": {"stroke": null},
  "axis": {"domain": false, "ticks": false, "grid": true, "gridColor": "#c4c4c4", "gridWidth": 1.6,
    "labelFontSize": 36, "labelColor": "#111111", "labelPadding": 12, "labelFont": "Roboto"},
  "header": {"labelFontSize": 39, "labelColor": "#111111", "labelFont": "Roboto",
    "titleFontSize": 37, "titleFontWeight": "bold", "titleColor": "#111111", "titleFont": "Roboto"}
}
}
